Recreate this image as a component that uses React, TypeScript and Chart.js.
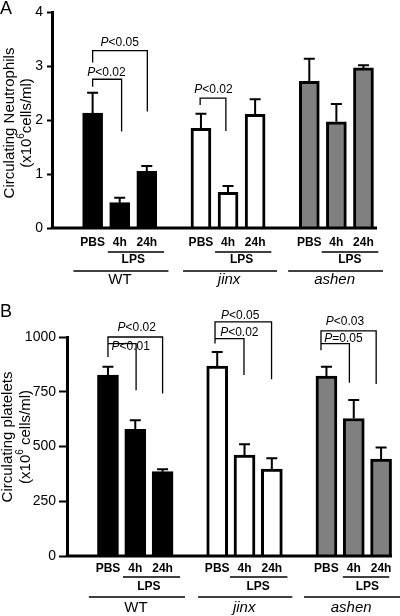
import React, { useEffect, useRef } from "react";
import { Chart, registerables } from "chart.js";

Chart.register(...registerables);

const FONT = "'Liberation Sans', Arial, Helvetica, sans-serif";

// ---------- shared categories ----------
const conditions = ["PBS", "4h", "24h"];
const strains = ["WT", "jinx", "ashen"];
const strainItalic = [false, true, true];
const strainFill = ["#000000", "#ffffff", "#808080"];
const barSlots = [0, 1, 2, 4, 5, 6, 8, 9, 10];
const strainFirstSlot = [0, 4, 8];

// ---------- Panel A: neutrophils (x10^6 cells/ml) ----------
const neutrophilMean = [2.13, 0.47, 1.05, 1.85, 0.66, 2.11, 2.72, 1.97, 2.97];
const neutrophilSem = [0.38, 0.09, 0.1, 0.27, 0.12, 0.28, 0.42, 0.33, 0.05];
const neutrophilTickStep = 1;
const neutrophilMax = 4;
// [xStart, xEnd, yBar, yLeftEnd, yRightEnd]
const neutrophilBrackets = [
  [0, 2.02, 3.29, 3.07, 2.16],
  [0, 1.07, 2.76, 2.62, 1.79],
  [3.97, 4.92, 2.41, 2.28, 1.8],
];
const neutrophilPLabels = ["P<0.05", "P<0.02", "P<0.02"];
const neutrophilPLabelAt = [
  [1.0, 3.44],
  [0.51, 2.89],
  [4.46, 2.56],
];
const neutrophilLpsStart = [0.56, 4.52, 8.46];
const neutrophilLpsEnd = [2.64, 6.6, 10.55];
const neutrophilGroupStart = [-0.71, 3.34, 7.22];
const neutrophilGroupEnd = [2.8, 6.81, 10.72];

// ---------- Panel B: platelets (x10^6 cells/ml) ----------
const plateletMean = [826, 578, 385, 867, 461, 397, 821, 628, 443];
const plateletSem = [38, 42, 11, 65, 49, 49, 43, 84, 53];
const plateletTickStep = 250;
const plateletMax = 1000;
const plateletBrackets = [
  [0, 2.0, 1000, 909, 742],
  [0, 1.03, 970, 970, 757],
  [3.92, 5.99, 1069, 970, 807],
  [3.92, 4.98, 993, 993, 826],
  [7.8, 9.82, 1028, 940, 785],
  [7.8, 8.84, 970, 970, 791],
];
const plateletPLabels = ["P<0.02", "P<0.01", "P<0.05", "P<0.02", "P<0.03", "P=0.05"];
const plateletPLabelAt = [
  [1.05, 1043],
  [0.83, 955],
  [4.84, 1099],
  [4.81, 1019],
  [8.68, 1072],
  [8.62, 993],
];
const plateletLpsStart = [0.55, 4.47, 8.6];
const plateletLpsEnd = [2.64, 6.57, 10.3];
const plateletGroupStart = [-0.7, 3.3, 7.18];
const plateletGroupEnd = [2.82, 6.75, 10.7];

type Panel = {
  letter: string;
  letterBaseline: number;
  height: number;
  mean: number[];
  sem: number[];
  max: number;
  step: number;
  xMin: number;
  xMax: number;
  pad: { top: number; bottom: number; right: number };
  axisWidth: number;
  tickLen: number;
  tickPad: number;
  barW: number;
  brackets: number[][];
  pLabels: string[];
  pLabelAt: number[][];
  lpsStart: number[];
  lpsEnd: number[];
  groupStart: number[];
  groupEnd: number[];
  title1: string;
  title2pre: string;
  title2sup: string;
  title2post: string;
  titleX1: number;
  titleX2: number;
  titleY: number;
  titleSize: number;
  below: { cond: number; lpsLine: number; lps: number; groupLine: number; group: number };
};

function drawPLabel(ctx: CanvasRenderingContext2D, label: string, cx: number, cy: number, size: number) {
  const first = label[0];
  const rest = label.slice(1);
  const fi = `italic ${size}px ${FONT}`;
  const fn = `${size}px ${FONT}`;
  ctx.font = fi;
  const w1 = ctx.measureText(first).width;
  ctx.font = fn;
  const w2 = ctx.measureText(rest).width;
  const x = cx - (w1 + w2) / 2;
  ctx.textAlign = "left";
  ctx.textBaseline = "middle";
  ctx.fillStyle = "#000";
  ctx.font = fi;
  ctx.fillText(first, x, cy);
  ctx.font = fn;
  ctx.fillText(rest, x + w1, cy);
}

function makePlugin(p: Panel) {
  return {
    id: "decor" + p.letter,
    afterDatasetsDraw(chart: any) {
      const ctx: CanvasRenderingContext2D = chart.ctx;
      const xs = chart.scales.x;
      const ys = chart.scales.y;
      const area = chart.chartArea;
      const y0 = ys.getPixelForValue(0);
      ctx.save();
      ctx.strokeStyle = "#000";
      ctx.fillStyle = "#000";
      ctx.lineCap = "butt";

      // error bars
      ctx.lineWidth = 2;
      p.mean.forEach((m, i) => {
        const x = xs.getPixelForValue(barSlots[i]);
        const yb = ys.getPixelForValue(m);
        const yt = ys.getPixelForValue(m + p.sem[i]);
        ctx.beginPath();
        ctx.moveTo(x, yb);
        ctx.lineTo(x, yt);
        ctx.moveTo(x - 5.5, yt);
        ctx.lineTo(x + 5.5, yt);
        ctx.stroke();
      });

      // baseline
      ctx.lineWidth = 3;
      ctx.beginPath();
      ctx.moveTo(area.left - 1.25, y0);
      ctx.lineTo(area.right, y0);
      ctx.stroke();

      // significance brackets
      ctx.lineWidth = 1.3;
      p.brackets.forEach(([xa, xb, yy, yl, yr]) => {
        const X0 = xs.getPixelForValue(xa);
        const X1 = xs.getPixelForValue(xb);
        ctx.beginPath();
        ctx.moveTo(X0, ys.getPixelForValue(yl));
        ctx.lineTo(X0, ys.getPixelForValue(yy));
        ctx.lineTo(X1, ys.getPixelForValue(yy));
        ctx.lineTo(X1, ys.getPixelForValue(yr));
        ctx.stroke();
      });
      p.pLabels.forEach((lab, i) => {
        drawPLabel(ctx, lab, xs.getPixelForValue(p.pLabelAt[i][0]), ys.getPixelForValue(p.pLabelAt[i][1]), 12);
      });

      // category labels under the axis
      ctx.textAlign = "center";
      ctx.textBaseline = "middle";
      ctx.font = `bold 12px ${FONT}`;
      barSlots.forEach((s, i) => {
        ctx.fillText(conditions[i % 3], xs.getPixelForValue(s), y0 + p.below.cond);
      });
      ctx.lineWidth = 1.5;
      strains.forEach((name, g) => {
        const a = xs.getPixelForValue(p.lpsStart[g]);
        const b = xs.getPixelForValue(p.lpsEnd[g]);
        ctx.beginPath();
        ctx.moveTo(a, y0 + p.below.lpsLine);
        ctx.lineTo(b, y0 + p.below.lpsLine);
        ctx.stroke();
        ctx.font = `bold 12px ${FONT}`;
        ctx.fillText("LPS", xs.getPixelForValue(strainFirstSlot[g] + 1.5), y0 + p.below.lps);
        const c = xs.getPixelForValue(p.groupStart[g]);
        const d = xs.getPixelForValue(p.groupEnd[g]);
        ctx.beginPath();
        ctx.moveTo(c, y0 + p.below.groupLine);
        ctx.lineTo(d, y0 + p.below.groupLine);
        ctx.stroke();
        ctx.font = `${strainItalic[g] ? "italic " : ""}15px ${FONT}`;
        ctx.fillText(name, (c + d) / 2 - 1, y0 + p.below.group);
      });

      // y-axis title (rotated, two lines, superscript)
      const fs = p.titleSize;
      ctx.save();
      ctx.translate(p.titleX1, p.titleY);
      ctx.rotate(-Math.PI / 2);
      ctx.font = `${fs}px ${FONT}`;
      ctx.textAlign = "center";
      ctx.fillText(p.title1, 0, 0);
      ctx.restore();

      ctx.save();
      ctx.translate(p.titleX2, p.titleY);
      ctx.rotate(-Math.PI / 2);
      ctx.textAlign = "left";
      const fn = `${fs}px ${FONT}`;
      const fsup = `${Math.round(fs * 0.68)}px ${FONT}`;
      ctx.font = fn;
      const wPre = ctx.measureText(p.title2pre).width;
      const wPost = ctx.measureText(p.title2post).width;
      ctx.font = fsup;
      const wSup = ctx.measureText(p.title2sup).width;
      let x = -(wPre + wSup + wPost) / 2;
      ctx.font = fn;
      ctx.fillText(p.title2pre, x, 0);
      x += wPre;
      ctx.font = fsup;
      ctx.fillText(p.title2sup, x, -fs * 0.38);
      x += wSup;
      ctx.font = fn;
      ctx.fillText(p.title2post, x, 0);
      ctx.restore();

      // panel letter
      ctx.textAlign = "left";
      ctx.textBaseline = "alphabetic";
      ctx.font = `18px ${FONT}`;
      ctx.fillText(p.letter, 0, p.letterBaseline);

      ctx.restore();
    },
  };
}

function PanelChart({ p, top }: { p: Panel; top: number }) {
  const ref = useRef<HTMLCanvasElement | null>(null);
  useEffect(() => {
    if (!ref.current) return;
    const chart = new Chart(ref.current, {
      type: "bar",
      data: {
        datasets: [
          {
            data: p.mean.map((m, i) => ({ x: barSlots[i], y: m })),
            backgroundColor: barSlots.map((_, i) => strainFill[Math.floor(i / 3)]),
            borderColor: "#000",
            borderWidth: 3,
            borderSkipped: "start",
            barThickness: p.barW,
          } as any,
        ],
      },
      options: {
        animation: false,
        responsive: false,
        events: [],
        layout: { padding: { left: 0, right: p.pad.right, top: p.pad.top, bottom: p.pad.bottom } },
        plugins: { legend: { display: false }, tooltip: { enabled: false }, title: { display: false } },
        scales: {
          x: { type: "linear", min: p.xMin, max: p.xMax, display: false, offset: false },
          y: {
            min: 0,
            max: p.max,
            ticks: {
              stepSize: p.step,
              color: "#000",
              font: { family: FONT, size: 14 },
              padding: p.tickPad,
              callback: (v: any) => String(v),
            },
            grid: {
              drawOnChartArea: false,
              drawTicks: true,
              tickLength: p.tickLen,
              tickColor: "#000",
              tickWidth: 2,
              color: "#000",
            },
            border: { display: true, color: "#000", width: 3 },
            afterFit: (s: any) => {
              s.width = p.axisWidth;
            },
          },
        },
      } as any,
      plugins: [makePlugin(p)],
    });
    return () => chart.destroy();
  }, [p]);
  return (
    <canvas
      ref={ref}
      width={400}
      height={p.height}
      style={{ position: "absolute", left: 0, top, width: 400, height: p.height, display: "block" }}
    />
  );
}

const panelA: Panel = {
  letter: "A",
  letterBaseline: 14,
  height: 300,
  mean: neutrophilMean,
  sem: neutrophilSem,
  max: neutrophilMax,
  step: neutrophilTickStep,
  xMin: -1.5,
  xMax: 10.5,
  pad: { top: 12, bottom: 72, right: 23 },
  axisWidth: 52,
  tickLen: 5,
  tickPad: 4,
  barW: 20,
  brackets: neutrophilBrackets,
  pLabels: neutrophilPLabels,
  pLabelAt: neutrophilPLabelAt,
  lpsStart: neutrophilLpsStart,
  lpsEnd: neutrophilLpsEnd,
  groupStart: neutrophilGroupStart,
  groupEnd: neutrophilGroupEnd,
  title1: "Circulating Neutrophils",
  title2pre: "(x10",
  title2sup: "6",
  title2post: "cells/ml)",
  titleX1: 10,
  titleX2: 27,
  titleY: 123,
  titleSize: 15,
  below: { cond: 15, lpsLine: 24, lps: 32, groupLine: 43, group: 52 },
};

const panelB: Panel = {
  letter: "B",
  letterBaseline: 17,
  height: 316,
  mean: plateletMean,
  sem: plateletSem,
  max: plateletMax,
  step: plateletTickStep,
  xMin: -1.5,
  xMax: 10.4,
  pad: { top: 37, bottom: 60, right: 8 },
  axisWidth: 67,
  tickLen: 8,
  tickPad: 3,
  barW: 21,
  brackets: plateletBrackets,
  pLabels: plateletPLabels,
  pLabelAt: plateletPLabelAt,
  lpsStart: plateletLpsStart,
  lpsEnd: plateletLpsEnd,
  groupStart: plateletGroupStart,
  groupEnd: plateletGroupEnd,
  title1: "Circulating platelets",
  title2pre: "(x10",
  title2sup: "6",
  title2post: " cells/ml)",
  titleX1: 8,
  titleX2: 26,
  titleY: 137,
  titleSize: 15,
  below: { cond: 13, lpsLine: 21, lps: 31, groupLine: 41, group: 52 },
};

export default function App() {
  return (
    <div style={{ position: "absolute", left: 0, top: 0, width: 400, height: 616, background: "#fff" }}>
      <PanelChart p={panelA} top={0} />
      <PanelChart p={panelB} top={300} />
    </div>
  );
}
